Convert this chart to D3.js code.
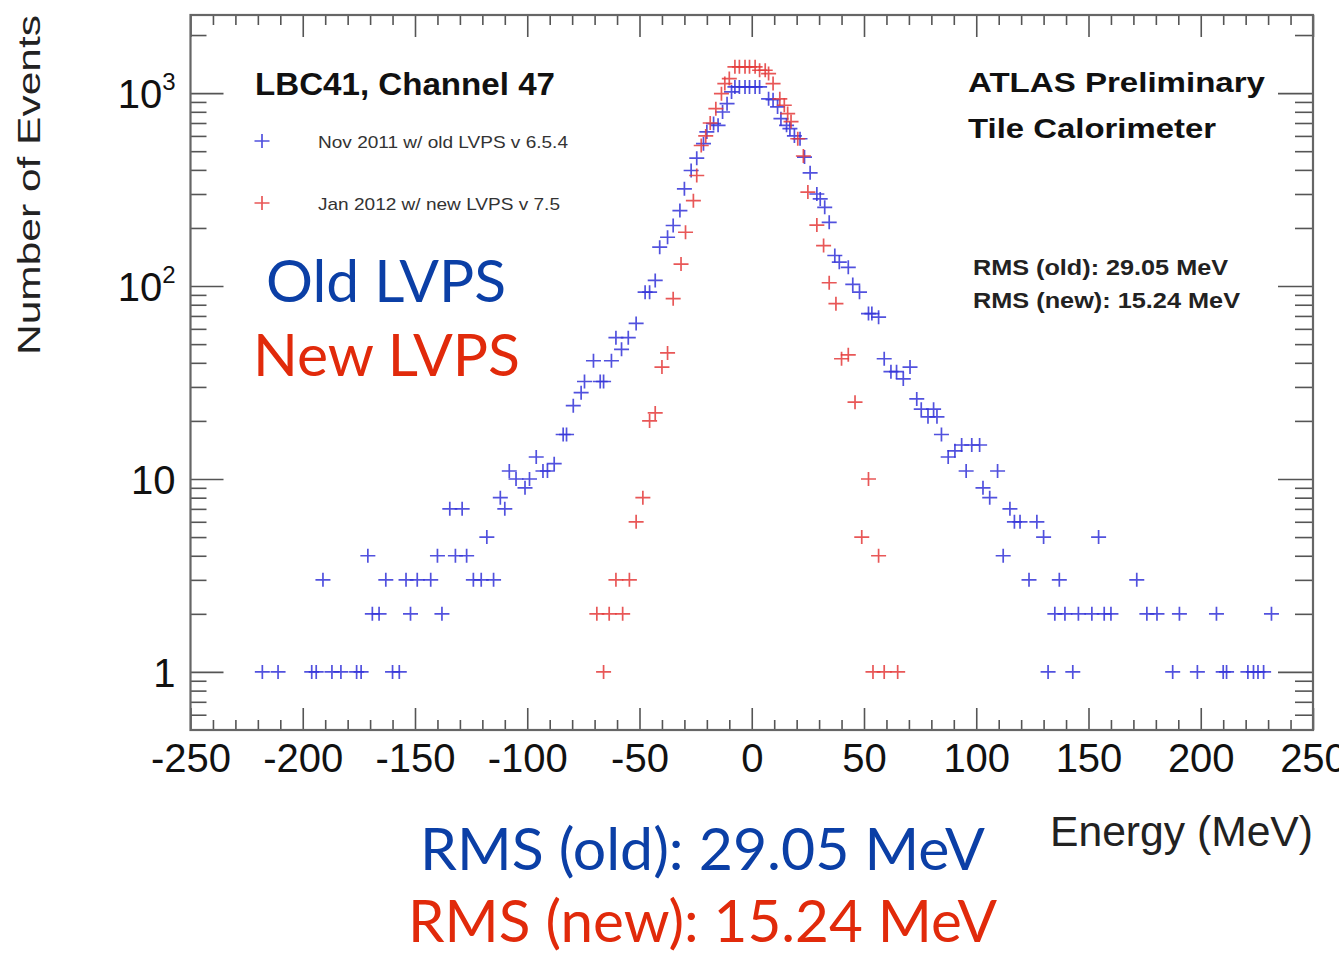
<!DOCTYPE html>
<html>
<head>
<meta charset="utf-8">
<script src="https://cdn.jsdelivr.net/npm/d3@7"></script>
<style>
  body { margin: 0; background: #fff; }
  svg { display: block; }
</style>
</head>
<body>
<script>
var width = 1339;
var height = 955;

// Nov 2011, old LVPS (blue)
var oldEnergy = [-218, -211, -196, -194, -191, -187, -183, -176, -174, -171, -169, -166, -163, -160, -157, -154, -152, -149, -143, -140, -138, -134.5, -132, -129, -127, -124, -120.5, -118, -115, -112, -110, -108, -105, -101, -99, -96, -93, -91, -88, -84, -82.5, -79.5, -76, -74.5, -70.5, -67.5, -66, -62.5, -60.5, -58, -55, -51.5, -47.5, -45.5, -43, -41, -37.5, -35, -32, -30, -27, -24.5, -21.5, -20, -17, -15, -13, -11, -9, -7.5, -5.5, -3, -1, 1.5, 3.5, 7.5, 9.5, 11.5, 13, 15.5, 17, 19, 21.5, 23.5, 26, 29, 30.5, 32.5, 34.5, 37, 39, 43, 45, 48, 52, 53.5, 56.5, 59, 62, 64.5, 67.5, 70.5, 73.5, 75.5, 78.5, 81, 82.5, 84.5, 87.5, 90.5, 93.5, 95.5, 98, 101.5, 103, 106, 109.5, 112, 115, 117, 119.5, 123.5, 127, 130, 132, 135, 137, 139.5, 143, 145.5, 151.5, 154.5, 157, 160, 171.5, 176, 180.5, 187.5, 190.5, 198.5, 207, 210, 211.5, 221, 223.5, 225.5, 228, 231.5];
var oldCounts = [1, 1, 1, 1, 3, 1, 1, 1, 1, 4, 2, 2, 3, 1, 1, 3, 2, 3, 3, 4, 2, 7, 4, 7, 4, 3, 3, 5, 3, 8, 7, 11, 10, 9, 10, 13, 11, 11, 12, 17, 17, 24, 28, 32, 41, 32, 32, 41, 54, 47, 54, 64, 93, 93, 107, 159, 179, 206, 246, 319, 397, 460, 547, 629, 695, 681, 798, 881, 1014, 1077, 1077, 1077, 1077, 1077, 1077, 934, 924, 848, 737, 681, 654, 600, 580, 466, 386, 300, 283, 256, 214, 144, 133, 125, 102, 93, 72, 72, 69, 42, 36, 36, 33, 38, 26, 23, 21, 23, 21, 17, 13, 14, 15, 11, 15, 15, 9, 8, 11, 4, 7, 6, 6, 3, 6, 5, 1, 2, 3, 2, 1, 2, 2, 5, 2, 2, 3, 2, 2, 1, 2, 1, 2, 1, 1, 1, 1, 1, 1, 2];

// Jan 2012, new LVPS (red)
var newEnergy = [-69, -66, -63.5, -60.5, -57.5, -54.5, -51.5, -48.5, -45.5, -43, -40, -37.5, -35, -31.5, -29.5, -26, -24.5, -22.5, -20.5, -18.5, -16, -13.5, -12, -10, -7.5, -5.5, -3, -1, 1.5, 3.5, 6, 7.5, 9.5, 12.5, 14.5, 16, 17.5, 20.5, 23, 25, 29, 32, 34.5, 37.5, 40, 43, 46, 49, 52, 54, 56.5, 59, 65];
var newCounts = [2, 1, 2, 3, 2, 3, 6, 8, 20, 22, 38, 45, 86, 130, 190, 277, 374, 535, 600, 700, 830, 993, 1121, 1189, 1368, 1368, 1368, 1368, 1368, 1314, 1314, 1262, 1121, 934, 865, 783, 712, 580, 472, 307, 207, 162, 104, 81, 42, 44, 25, 5, 10, 1, 4, 1, 1];

var xMajor = [-250, -200, -150, -100, -50, 0, 50, 100, 150, 200, 250];
var yMajor = [1, 10, 100, 1000];
var yLabels = [["1", ""], ["10", ""], ["10", "2"], ["10", "3"]];

var seriesNames = ["Nov 2011 w/ old LVPS v 6.5.4", "Jan 2012 w/ new LVPS v 7.5"];

var svg = d3.select("body").append("svg")
            .attr("width", width)
            .attr("height", height);

var x = d3.scaleLinear().domain([-250, 250]).range([190.5, 1313]);
var y = d3.scaleLog().domain([0.5, 2540]).range([730, 15]);

var xMinor = d3.range(-240, 250, 10).filter(function(v) { return v % 50 !== 0; });
var yMinor = [0.6, 0.7, 0.8, 0.9];
[1, 10, 100].forEach(function(p) {
    for (var k = 2; k <= 9; k++) yMinor.push(k * p);
});
yMinor.push(2000);

var tickColor = "#555";
function styleAxis(g) {
    g.select(".domain").remove();
    g.selectAll(".tick line").attr("stroke", tickColor).attr("stroke-width", 1.6);
}

// bottom axis, ticks inward
svg.append("g").attr("transform", "translate(0,730)")
   .call(d3.axisBottom(x).tickValues(xMinor).tickSize(-10).tickFormat(""))
   .call(styleAxis);
var bottom = svg.append("g").attr("transform", "translate(0,730)")
   .call(d3.axisBottom(x).tickValues(xMajor).tickSize(-22).tickPadding(14)
           .tickFormat(function(d) { return String(d); }))
   .call(styleAxis);
bottom.selectAll("text")
      .attr("font-family", "Liberation Sans, Arial, sans-serif")
      .attr("font-size", 40)
      .attr("fill", "#111");

// top axis
svg.append("g").attr("transform", "translate(0,15)")
   .call(d3.axisTop(x).tickValues(xMinor).tickSize(-10).tickFormat(""))
   .call(styleAxis);
svg.append("g").attr("transform", "translate(0,15)")
   .call(d3.axisTop(x).tickValues(xMajor).tickSize(-22).tickFormat(""))
   .call(styleAxis);

// left axis
svg.append("g").attr("transform", "translate(190.5,0)")
   .call(d3.axisLeft(y).tickValues(yMinor).tickSize(-16).tickFormat(""))
   .call(styleAxis);
var left = svg.append("g").attr("transform", "translate(190.5,0)")
   .call(d3.axisLeft(y).tickValues(yMajor).tickSize(-33).tickPadding(15).tickFormat(""))
   .call(styleAxis);
left.selectAll(".tick text").each(function(d, i) {
    var t = d3.select(this)
              .attr("font-family", "Liberation Sans, Arial, sans-serif")
              .attr("font-size", 40)
              .attr("fill", "#111")
              .attr("dy", "0.36em");
    t.append("tspan").text(yLabels[i][0]);
    if (yLabels[i][1]) {
        t.append("tspan").attr("font-size", 24).attr("dy", "-0.75em").text(yLabels[i][1]);
    }
});

// right axis
svg.append("g").attr("transform", "translate(1313,0)")
   .call(d3.axisRight(y).tickValues(yMinor).tickSize(-18).tickFormat(""))
   .call(styleAxis);
svg.append("g").attr("transform", "translate(1313,0)")
   .call(d3.axisRight(y).tickValues(yMajor).tickSize(-35).tickFormat(""))
   .call(styleAxis);

// frame
svg.append("rect")
   .attr("x", x(-250)).attr("y", y(2540))
   .attr("width", x(250) - x(-250)).attr("height", y(0.5) - y(2540))
   .attr("fill", "none").attr("stroke", "#666").attr("stroke-width", 2.2);

// markers: ROOT style "+"
var cross = "M-7.5,0H7.5M0,-7V7";
function drawSeries(ex, ey, color) {
    var pts = ex.map(function(e, i) { return {e: e, n: ey[i]}; });
    svg.append("g").selectAll("path")
       .data(pts)
       .enter()
       .append("path")
       .attr("d", cross)
       .attr("transform", function(d) { return "translate(" + x(d.e) + "," + y(d.n) + ")"; })
       .attr("fill", "none")
       .attr("stroke", color)
       .attr("stroke-width", 1.7)
       .attr("stroke-opacity", 0.85);
}
drawSeries(oldEnergy, oldCounts, "#3232d8");
drawSeries(newEnergy, newCounts, "#e43a3a");

// text helper
function label(txt, px, py, size, opts) {
    opts = opts || {};
    var t = svg.append("text")
       .attr("x", px).attr("y", py)
       .attr("font-family", opts.family || "Liberation Sans, Arial, sans-serif")
       .attr("font-size", size)
       .attr("font-weight", opts.weight || "normal")
       .attr("fill", opts.fill || "#111")
       .text(txt);
    if (opts.len) t.attr("textLength", opts.len).attr("lengthAdjust", "spacingAndGlyphs");
    return t;
}

label("LBC41, Channel 47", 255, 95, 31, {weight: "bold", len: 300});
label("ATLAS Preliminary", 968, 92, 28, {weight: "bold", len: 297});
label("Tile Calorimeter", 968, 138, 28, {weight: "bold", len: 248});
label("RMS (old): 29.05 MeV", 973, 275, 22, {weight: "bold", len: 255, fill: "#222"});
label("RMS (new): 15.24 MeV", 973, 308, 22, {weight: "bold", len: 267, fill: "#222"});

// legend
var legColors = ["#3232d8", "#e43a3a"];
seriesNames.forEach(function(name, i) {
    var ly = 141 + i * 62;
    svg.append("path").attr("d", cross)
       .attr("transform", "translate(262," + ly + ")")
       .attr("fill", "none").attr("stroke", legColors[i])
       .attr("stroke-width", 1.7).attr("stroke-opacity", 0.85);
    label(name, 318, ly + 7, 17, {fill: "#333", len: i === 0 ? 250 : 242});
});

// axis titles
label("Energy (MeV)", 1050, 846, 42, {fill: "#222", len: 263});
label("Number of Events", 0, 0, 31, {fill: "#222", len: 340})
   .attr("transform", "translate(40,355) rotate(-90)");

// big annotations
var gill = "Lato, 'Open Sans', sans-serif";
var blueText = "#0b3fa6";
var redText = "#e12a0b";
label("Old LVPS", 266, 302, 58, {family: gill, fill: blueText, len: 240});
label("New LVPS", 253, 376, 58, {family: gill, fill: redText, len: 267});
label("RMS (old): 29.05 MeV", 420, 870, 58, {family: gill, fill: blueText, len: 565});
label("RMS (new): 15.24 MeV", 408, 942, 58, {family: gill, fill: redText, len: 589});
</script>
</body>
</html>
